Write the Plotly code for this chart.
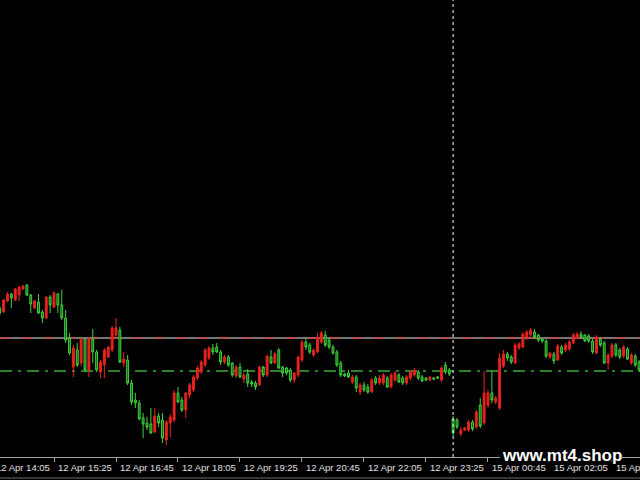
import plotly.graph_objects as go

# ---- data (price in points) ----
bar_index = list(range(2, 168))
open_ = [192,188,199,206,200,205,211,215,205,192,198,188,182,203,193,206,195,182,162,133,
         150,137,161,130,161,148,128,135,143,150,165,170,137,140,117,100,97,82,77,76,
         68,84,80,60,77,80,107,100,90,105,110,122,128,135,142,152,153,148,138,143,
         137,124,133,121,126,118,117,115,133,125,143,137,150,133,132,130,120,125,140,158,
         155,145,148,158,165,160,153,148,137,126,127,118,123,108,115,113,108,122,117,117,
         122,113,120,125,122,117,122,125,128,123,122,120,122,123,120,135,130,81,80,66,
         70,70,78,73,95,77,95,107,98,92,134,146,143,137,152,153,162,165,168,165,
         161,159,143,146,140,153,150,151,157,162,166,165,164,159,147,161,157,137,144,155,
         150,144,151,137,144,138]
high_ = [194,201,208,207,212,214,215,216,206,200,206,190,204,205,209,207,210,190,167,155,
         157,162,162,162,171,150,140,152,154,174,182,173,148,145,120,107,100,87,83,92,
         92,87,87,80,86,110,113,103,108,117,125,134,140,152,154,156,157,150,145,145,
         138,135,137,127,131,120,119,134,134,145,150,148,152,134,133,132,128,144,160,162,
         157,151,167,169,169,162,155,150,139,127,130,125,125,117,118,116,122,124,125,127,
         124,127,129,127,124,125,130,132,130,125,123,124,123,124,134,138,132,84,82,73,
         73,80,80,90,102,129,110,129,104,147,150,148,145,157,158,168,170,172,171,166,
         162,161,148,148,156,155,157,160,167,168,169,166,166,161,165,163,159,147,157,157,
         152,155,153,147,146,140]
low_ = [185,187,198,192,199,199,210,204,187,191,186,177,181,187,192,187,180,157,145,123,
        133,134,128,123,137,128,122,122,142,148,163,137,133,115,95,92,80,62,70,66,
        67,73,57,55,63,78,97,88,82,102,108,120,126,133,140,145,147,135,136,133,
        123,122,122,117,113,113,110,114,123,123,136,136,131,123,125,118,117,123,138,150,
        146,143,147,156,153,151,145,133,123,123,122,116,108,105,108,106,107,115,115,115,
        112,112,118,117,115,115,120,123,120,118,119,119,120,121,118,126,124,64,71,64,
        69,68,69,71,72,75,92,97,96,90,132,139,136,136,150,152,160,163,161,158,
        157,142,141,136,139,145,148,149,156,161,161,158,157,146,146,153,136,130,142,143,
        141,142,140,135,133,128]
close_ = [187,200,206,202,211,213,214,205,196,199,187,182,203,195,207,195,182,160,147,152,
          135,161,130,161,148,130,138,150,153,172,172,138,141,117,98,97,81,76,73,67,
          84,77,62,78,83,107,98,90,107,115,123,132,138,150,152,148,148,138,143,135,
          125,133,123,125,117,116,113,133,125,144,137,146,132,127,127,120,127,143,158,153,
          148,150,163,167,155,153,147,135,125,124,123,123,112,115,110,108,120,117,122,125,
          113,125,127,118,117,123,128,130,122,119,120,123,121,122,132,128,126,67,73,70,
          72,78,71,88,74,107,107,100,102,142,146,142,138,155,156,166,168,170,163,160,
          159,144,147,139,154,147,155,158,165,166,163,159,159,148,163,155,137,145,155,145,
          143,153,141,145,135,130]

tick_index = [0, 16, 32, 48, 64, 80, 96, 112, 128, 144, 160]
tick_labels = ["12 Apr 14:05", "12 Apr 15:25", "12 Apr 16:45", "12 Apr 18:05",
               "12 Apr 19:25", "12 Apr 20:45", "12 Apr 22:05", "12 Apr 23:25",
               "15 Apr 00:45", "15 Apr 02:05", "15 Apr 03:25"]

day_separator_index = 119
resistance_level = 162
support_level = 129

X_RANGE = [2.065, 167.23]
Y_RANGE = [43, 500]
W, H = 640, 480
AXIS_BOTTOM_PX = 23  # height reserved below the price pane

fig = go.Figure()
fig.add_trace(go.Candlestick(
    x=bar_index, open=open_, high=high_, low=low_, close=close_,
    increasing=dict(line=dict(color="#e8231f", width=1), fillcolor="#e8231f"),
    decreasing=dict(line=dict(color="#3ed13e", width=1), fillcolor="#155e15"),
    whiskerwidth=0, hoverinfo="skip", showlegend=False,
))

shapes = []
shapes.append(dict(type="line", xref="paper", x0=0, x1=1, yref="y",
                   y0=resistance_level, y1=resistance_level,
                   line=dict(color="#a09c9c", width=1.5), layer="below"))
shapes.append(dict(type="line", xref="paper", x0=0, x1=1, yref="y",
                   y0=resistance_level, y1=resistance_level,
                   line=dict(color="#c8463f", width=1.5, dash="10px,12px"), layer="below"))
shapes.append(dict(type="line", xref="paper", x0=0, x1=1, yref="y",
                   y0=support_level, y1=support_level,
                   line=dict(color="#3caa3c", width=1.5, dash="12px,6px,3px,6px"), layer="below"))
shapes.append(dict(type="line", xref="x", x0=day_separator_index, x1=day_separator_index,
                   yref="paper", y0=AXIS_BOTTOM_PX / H, y1=1,
                   line=dict(color="#ffffff", width=1, dash="3px,3px"), layer="above"))
shapes.append(dict(type="rect", xref="paper", yref="paper",
                   x0=497 / W, x1=1, y0=0, y1=(H - 459) / H,
                   fillcolor="rgba(0,0,0,0.55)", line=dict(width=0)))
shapes.append(dict(type="rect", xref="paper", yref="paper",
                   x0=500 / W, x1=622 / W, y0=(H - 460) / H, y1=(H - 447) / H,
                   fillcolor="#000000", line=dict(width=0)))
shapes.append(dict(type="line", xref="paper", yref="paper", x0=0, x1=1,
                   y0=2 / H, y1=2 / H, line=dict(color="#6a6a6a", width=1)))

annotations = []
span = X_RANGE[1] - X_RANGE[0]
for ti, lab in zip(tick_index, tick_labels):
    annotations.append(dict(
        x=(ti - X_RANGE[0]) / span, xref="paper", xanchor="left", xshift=2,
        y=(H - 467) / H, yref="paper", yanchor="middle",
        text=lab, showarrow=False,
        font=dict(family="Liberation Sans, Arial, sans-serif", size=9.5, color="#e0e0e0"),
    ))
annotations.append(dict(
    x=562 / W, y=(H - 455) / H, xref="paper", yref="paper",
    xanchor="center", yanchor="middle", text="<b>www.mt4.shop</b>", showarrow=False,
    font=dict(family="Liberation Sans, Arial, sans-serif", size=17, color="#ffffff"),
))

fig.update_layout(
    width=W, height=H, margin=dict(l=0, r=0, t=0, b=0, autoexpand=False),
    paper_bgcolor="#000000", plot_bgcolor="#000000",
    showlegend=False, shapes=shapes, annotations=annotations,
    xaxis=dict(range=X_RANGE, showgrid=False, zeroline=False,
               rangeslider=dict(visible=False),
               tickvals=tick_index, ticks="outside", ticklen=4, tickcolor="#a0a0a0",
               tickwidth=1, showticklabels=False,
               showline=True, linecolor="#a0a0a0", linewidth=1),
    yaxis=dict(range=Y_RANGE, domain=[AXIS_BOTTOM_PX / H, 1], visible=False,
               showgrid=False, zeroline=False),
)

fig.write_html(
    "out.html",
    config={"displayModeBar": False, "staticPlot": False},
    post_script="document.body.style.margin='0';document.body.style.padding='0';"
                "document.body.style.background='#000';document.body.style.overflow='hidden';",
)
